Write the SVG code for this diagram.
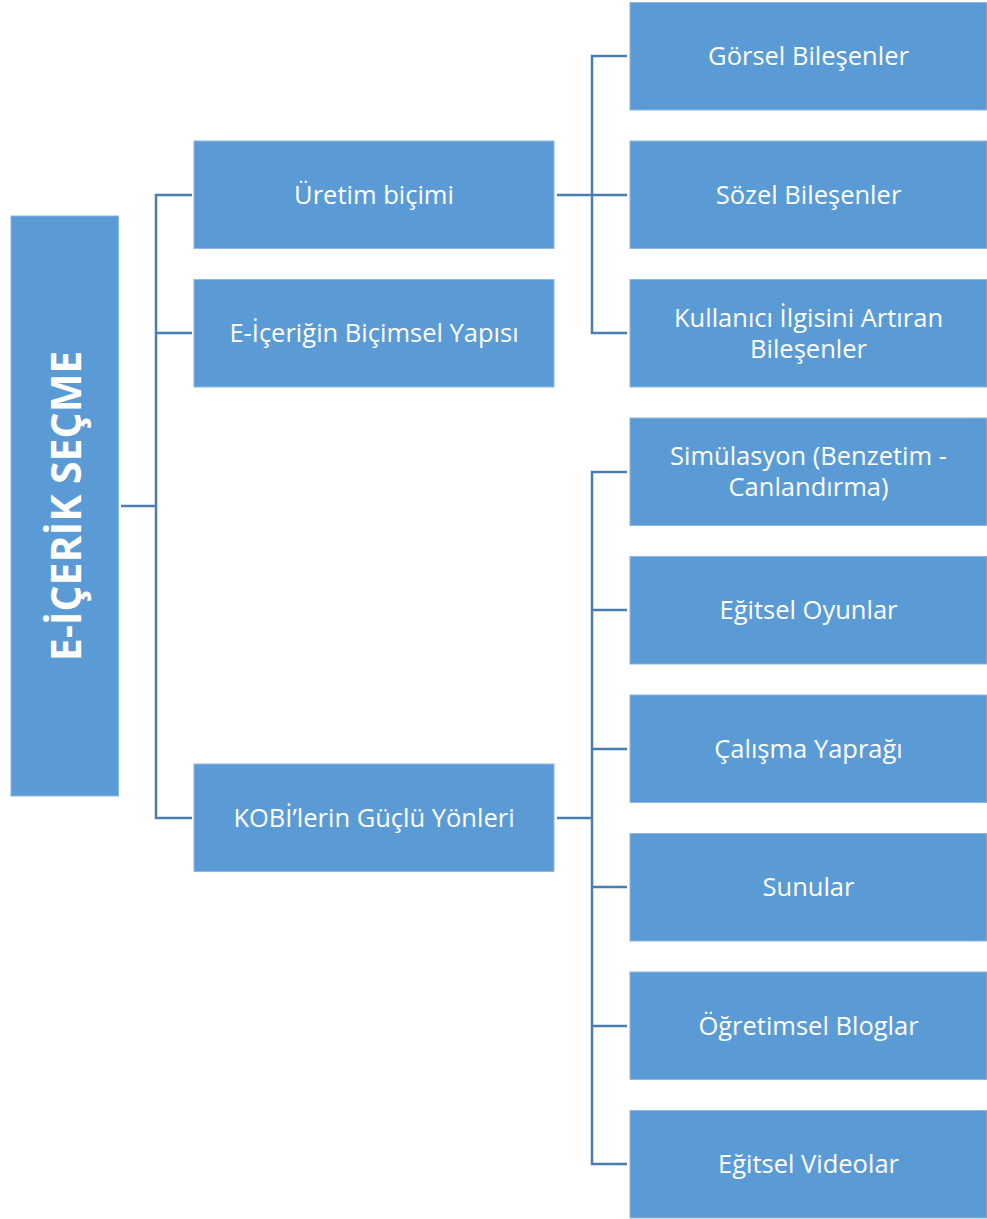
<svg xmlns="http://www.w3.org/2000/svg" width="987" height="1219" viewBox="0 0 987 1219">
<style>
.box{fill:#5B9BD5;stroke:#8DB6E0;stroke-width:1}
.t{font-family:"Open Sans","Liberation Sans",sans-serif;font-size:25.5px;fill:#ffffff;text-anchor:middle;dominant-baseline:central}
.root{font-family:"Open Sans","Liberation Sans",sans-serif;font-size:41px;font-weight:bold;fill:#ffffff;text-anchor:middle;dominant-baseline:central}
.c{fill:none;stroke:#4A7EB3;stroke-width:2.5}
</style>
<rect width="987" height="1219" fill="#ffffff"/>
<g id="connectors">
<path class="c" d="M121 506H156M192 195H156V818H192M156 333H192"/>
<path class="c" d="M557 195H627M627 56H592V333H627"/>
<path class="c" d="M557 818H592M627 472H592V1164H627M592 610H627M592 749H627M592 887H627M592 1026H627"/>
</g>
<g id="root"><rect class="box" x="11" y="216" width="107.5" height="580"/><text class="root" transform="translate(65 506) rotate(-90)">E-İÇERİK SEÇME</text></g>
<g id="n-uretim"><rect class="box" x="194" y="141" width="360" height="107.5"/><text class="t" x="374" y="194">Üretim biçimi</text></g>
<g id="n-bicimsel"><rect class="box" x="194" y="279.5" width="360" height="107.5"/><text class="t" x="374" y="332">E-İçeriğin Biçimsel Yapısı</text></g>
<g id="n-kobi"><rect class="box" x="194" y="764" width="360" height="107.5"/><text class="t" x="374" y="817">KOBİ’lerin Güçlü Yönleri</text></g>
<g id="n-gorsel"><rect class="box" x="630" y="2.5" width="357" height="107.5"/><text class="t" x="808.5" y="55">Görsel Bileşenler</text></g>
<g id="n-sozel"><rect class="box" x="630" y="141" width="357" height="107.5"/><text class="t" x="808.5" y="194">Sözel Bileşenler</text></g>
<g id="n-kullanici"><rect class="box" x="630" y="279.5" width="357" height="107.5"/><text class="t" x="808.5" y="317">Kullanıcı İlgisini Artıran</text><text class="t" x="808.5" y="348">Bileşenler</text></g>
<g id="n-simulasyon"><rect class="box" x="630" y="418" width="357" height="107.5"/><text class="t" x="808.5" y="455">Simülasyon (Benzetim -</text><text class="t" x="808.5" y="486">Canlandırma)</text></g>
<g id="n-oyunlar"><rect class="box" x="630" y="556.5" width="357" height="107.5"/><text class="t" x="808.5" y="609">Eğitsel Oyunlar</text></g>
<g id="n-yaprak"><rect class="box" x="630" y="695" width="357" height="107.5"/><text class="t" x="808.5" y="748">Çalışma Yaprağı</text></g>
<g id="n-sunular"><rect class="box" x="630" y="833.5" width="357" height="107.5"/><text class="t" x="808.5" y="886">Sunular</text></g>
<g id="n-bloglar"><rect class="box" x="630" y="972" width="357" height="107.5"/><text class="t" x="808.5" y="1025">Öğretimsel Bloglar</text></g>
<g id="n-videolar"><rect class="box" x="630" y="1110.5" width="357" height="107.5"/><text class="t" x="808.5" y="1163">Eğitsel Videolar</text></g>
</svg>
